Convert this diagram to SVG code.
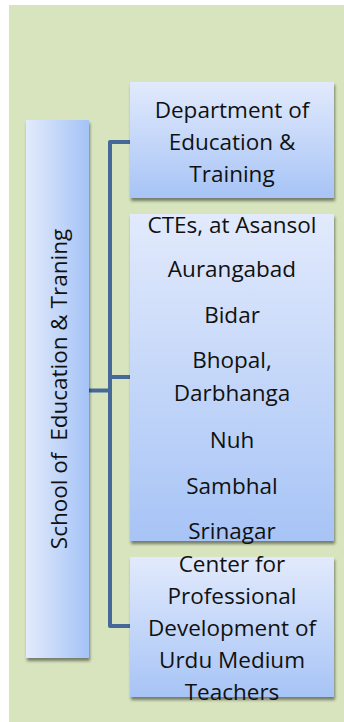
<svg xmlns="http://www.w3.org/2000/svg" width="344" height="722" viewBox="0 0 344 722">
<defs>
<linearGradient id="gv" x1="0" y1="0" x2="0" y2="1">
<stop offset="0" stop-color="#e2eafc"/>
<stop offset="1" stop-color="#a7c4f6"/>
</linearGradient>
<linearGradient id="gh" x1="0" y1="0" x2="1" y2="0">
<stop offset="0" stop-color="#e3ebfc"/>
<stop offset="1" stop-color="#a4c3f6"/>
</linearGradient>
<filter id="sh" x="-10%" y="-10%" width="125%" height="125%">
<feDropShadow dx="1" dy="3" stdDeviation="1.8" flood-color="#000" flood-opacity="0.45"/>
</filter>
</defs>
<style>
.t{font-family:"Open Sans","Noto Sans","Liberation Sans",sans-serif;font-size:22.5px;fill:#111;text-anchor:middle}
.c{fill:none;stroke:#466a98;stroke-width:4;stroke-linejoin:round}
</style>
<rect x="0" y="0" width="344" height="722" fill="#ffffff"/>
<rect x="9" y="5" width="335" height="717" fill="#d7e4bd"/>
<g id="connectors">
<path class="c" d="M130,142 H110 V626 H130"/>
<path class="c" d="M89,390.5 H110"/>
<path class="c" d="M110,377 H130"/>
</g>
<g id="school">
<rect x="26" y="120" width="63" height="538" fill="url(#gh)" filter="url(#sh)"/>
<text class="t" transform="translate(67,389) rotate(-90)" style="white-space:pre">School of  Education &amp; Traning</text>
</g>
<g id="department">
<rect x="130" y="82" width="204" height="116" fill="url(#gv)" filter="url(#sh)"/>
<text class="t" x="232" y="118">Department of</text>
<text class="t" x="232" y="150">Education &amp;</text>
<text class="t" x="232" y="182">Training</text>
</g>
<g id="ctes">
<rect x="130" y="214" width="204" height="327" fill="url(#gv)" filter="url(#sh)"/>
<text class="t" x="232" y="233">CTEs, at Asansol</text>
<text class="t" x="232" y="277">Aurangabad</text>
<text class="t" x="232" y="323">Bidar</text>
<text class="t" x="232" y="368">Bhopal,</text>
<text class="t" x="232" y="401">Darbhanga</text>
<text class="t" x="232" y="448">Nuh</text>
<text class="t" x="232" y="494">Sambhal</text>
<text class="t" x="232" y="539">Srinagar</text>
</g>
<g id="center">
<rect x="130" y="557" width="204" height="140" fill="url(#gv)" filter="url(#sh)"/>
<text class="t" x="232" y="572">Center for</text>
<text class="t" x="232" y="604">Professional</text>
<text class="t" x="232" y="636">Development of</text>
<text class="t" x="232" y="668">Urdu Medium</text>
<text class="t" x="232" y="700">Teachers</text>
</g>
</svg>
